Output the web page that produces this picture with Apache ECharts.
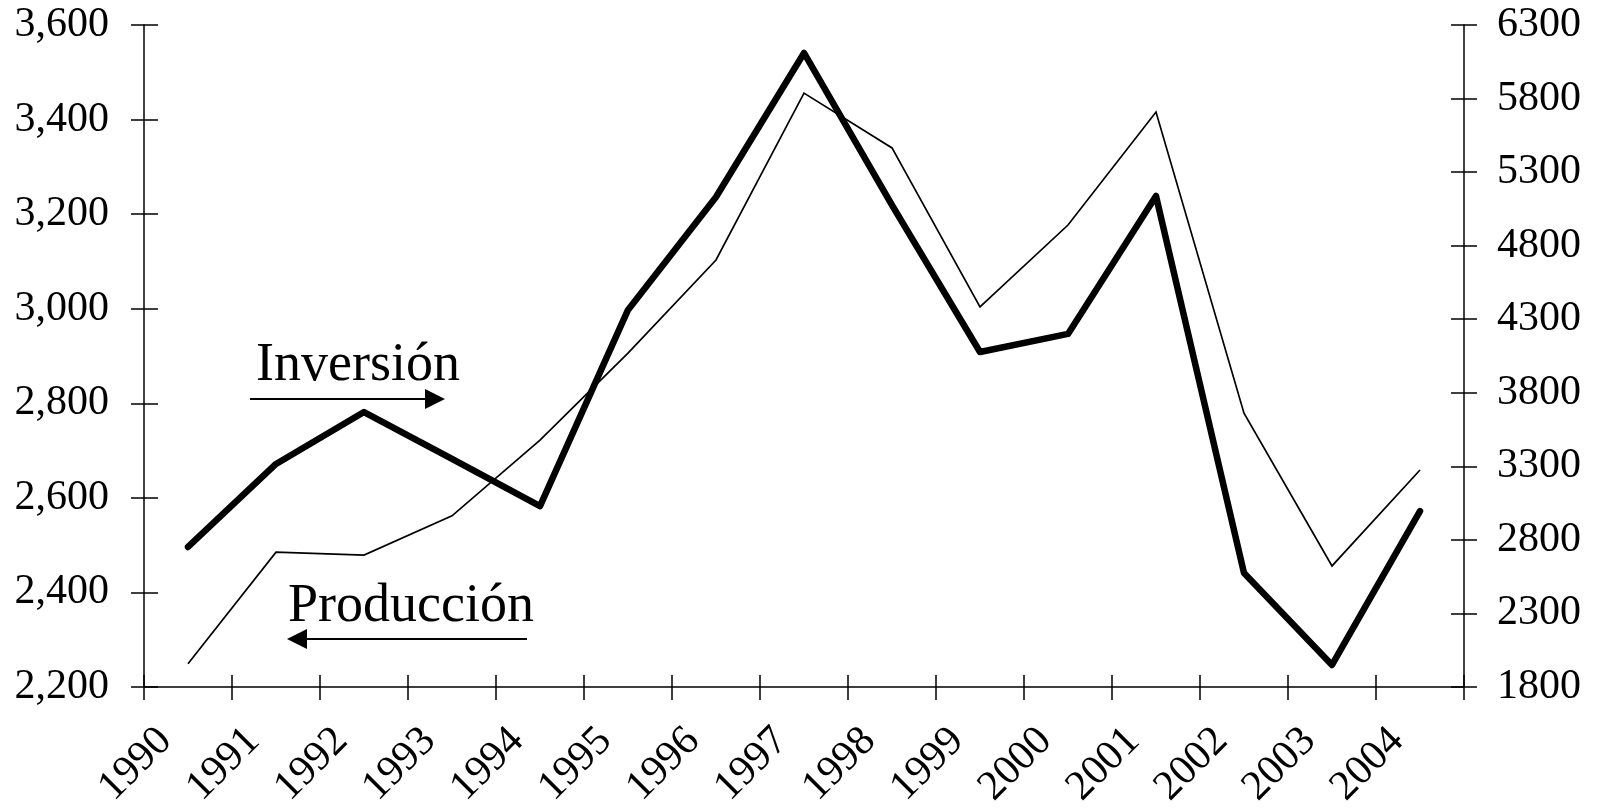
<!DOCTYPE html>
<html><head><meta charset="utf-8">
<script src="https://cdn.jsdelivr.net/npm/echarts@6/dist/echarts.min.js"></script>
<style>html,body{margin:0;padding:0;background:#fff}#c{width:1598px;height:812px}</style>
</head><body><div id="c"></div>
<script>
const years = ['1990','1991','1992','1993','1994','1995','1996','1997','1998','1999','2000','2001','2002','2003','2004'];
const produccion = [2249,2485,2479,2562,2722,2906,3103,3456,3340,3004,3177,3416,2779,2456,2659];
const inversion = [2752,3316,3669,3350,3030,4363,5131,6110,5076,4077,4200,5138,2575,1950,2996];
const leftTicks = [2200,2400,2600,2800,3000,3200,3400,3600];
const rightTicks = [1800,2300,2800,3300,3800,4300,4800,5300,5800,6300];
const labelInversion = 'Inversión';
const labelProduccion = 'Producción';

const FF = '"Liberation Serif", "Times New Roman", serif';
const black = '#000';
const lineW = 1.5;
const fmtComma = v => String(v).replace(/\B(?=(\d{3})+(?!\d))/g, ',');

const chart = echarts.init(document.getElementById('c'), null, {renderer:'canvas'});
chart.setOption({
  backgroundColor:'#fff',
  animation:false,
  grid:{left:144, right:134, top:25, bottom:125, containLabel:false, outerBoundsMode:'none'},
  xAxis:[
    {type:'category', data:years, position:'bottom', boundaryGap:true,
     axisLine:{show:true, lineStyle:{color:black, width:lineW}},
     axisTick:{show:true, inside:false, length:13, lineStyle:{color:black, width:lineW}},
     axisLabel:{rotate:45, interval:0, margin:25, padding:[0,32,0,0], fontSize:42, color:black, fontFamily:FF},
     splitLine:{show:false}},
    {type:'category', data:years, position:'bottom', boundaryGap:true,
     axisLine:{show:false},
     axisTick:{show:true, inside:true, length:12, lineStyle:{color:black, width:lineW}},
     axisLabel:{show:false}, splitLine:{show:false}}
  ],
  yAxis:[
    {type:'value', position:'left', min:leftTicks[0], max:leftTicks[leftTicks.length-1], interval:200,
     axisLine:{show:true, lineStyle:{color:black, width:lineW}},
     axisTick:{show:true, inside:false, length:13, lineStyle:{color:black, width:lineW}},
     axisLabel:{formatter:fmtComma, margin:35, fontSize:42, color:black, fontFamily:FF},
     splitLine:{show:false}},
    {type:'value', position:'left', min:leftTicks[0], max:leftTicks[leftTicks.length-1], interval:200,
     axisLine:{show:false},
     axisTick:{show:true, inside:true, length:14, lineStyle:{color:black, width:lineW}},
     axisLabel:{show:false}, splitLine:{show:false}},
    {type:'value', position:'right', min:rightTicks[0], max:rightTicks[rightTicks.length-1],
     axisLine:{show:true, lineStyle:{color:black, width:lineW}},
     axisTick:{show:true, inside:false, length:13, customValues:rightTicks, lineStyle:{color:black, width:lineW}},
     axisLabel:{customValues:rightTicks, formatter:v => String(v), margin:33, fontSize:42, color:black, fontFamily:FF},
     splitLine:{show:false}},
    {type:'value', position:'right', min:rightTicks[0], max:rightTicks[rightTicks.length-1],
     axisLine:{show:false},
     axisTick:{show:true, inside:true, length:13, customValues:rightTicks, lineStyle:{color:black, width:lineW}},
     axisLabel:{show:false}, splitLine:{show:false}}
  ],
  series:[
    {name:labelInversion, type:'line', data:inversion, xAxisIndex:0, yAxisIndex:2, symbol:'none',
     lineStyle:{color:black, width:6.5, cap:'round', join:'round'}},
    {name:labelProduccion, type:'line', data:produccion, xAxisIndex:0, yAxisIndex:0, symbol:'none',
     lineStyle:{color:black, width:1.7, join:'miter'}}
  ],
  graphic:[
    {type:'text', style:{text:labelInversion, x:256, y:366, font:'54px ' + FF, fill:black, verticalAlign:'middle', textVerticalAlign:'middle'}},
    {type:'line', shape:{x1:250, y1:399, x2:428, y2:399}, style:{stroke:black, lineWidth:2}},
    {type:'polygon', shape:{points:[[445,399],[425,389],[425,409]]}, style:{fill:black}},
    {type:'text', style:{text:labelProduccion, x:288, y:607, font:'54px ' + FF, fill:black, verticalAlign:'middle', textVerticalAlign:'middle'}},
    {type:'line', shape:{x1:527, y1:639, x2:304, y2:639}, style:{stroke:black, lineWidth:2}},
    {type:'polygon', shape:{points:[[287,639],[307,629],[307,649]]}, style:{fill:black}}
  ]
});
</script></body></html>
